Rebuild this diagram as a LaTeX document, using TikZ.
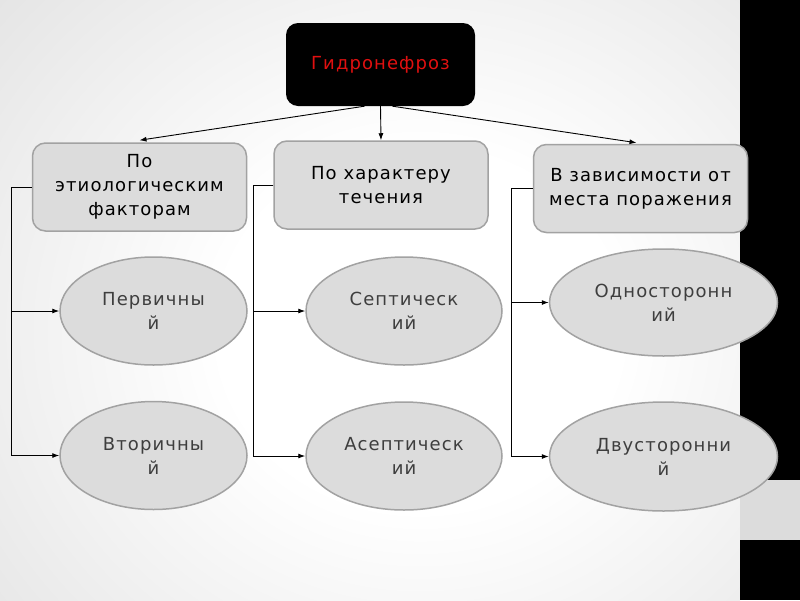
\documentclass[tikz,border=0pt]{standalone}
\usepackage{fontspec}
\setmainfont{DejaVu Sans}
\newfontfamily\dvs[LetterSpace=6]{DejaVu Sans}
\usetikzlibrary{shapes.geometric,arrows.meta}
\definecolor{boxfill}{HTML}{DCDCDC}
\definecolor{boxline}{HTML}{A2A2A2}
\definecolor{eltext}{HTML}{3E3E3E}
\definecolor{titlered}{HTML}{E01010}
\definecolor{bggray}{HTML}{C8C8C8}
\pgfdeclareradialshading{bgsh}{\pgfpoint{0bp}{0bp}}{color(0bp)=(white); color(10bp)=(white); color(48bp)=(bggray); color(75bp)=(bggray)}
\tikzset{
  topbox/.style={rectangle, rounded corners=12pt, fill=black, text=titlered, minimum width=189pt, minimum height=83pt, font=\dvs\fontsize{18}{24}\selectfont},
  catbox/.style={rectangle, rounded corners=13pt, fill=boxfill, draw=boxline, line width=1.5pt, minimum width=214pt, minimum height=88pt, align=center, text=black, font=\dvs\fontsize{18}{24}\selectfont},
  subell/.style={ellipse, fill=boxfill, draw=boxline, line width=1.5pt, inner sep=0pt, align=center, text=eltext, font=\dvs\fontsize{18}{24}\selectfont},
  arr/.style={draw=black, line width=0.9pt, -{Latex[length=7pt,width=5pt]}}
}
\begin{document}
\begin{tikzpicture}[x=1pt,y=-1pt]
\useasboundingbox (0,0) rectangle (800,600);
% background
\begin{scope}
\clip (0,0) rectangle (740,600);
\shade[shading=bgsh] (-80,-120) rectangle (920,780);
\end{scope}
\fill[black] (740,0) rectangle (800,480);
\fill[boxfill] (740,480) rectangle (800,540);
\fill[black] (740,540) rectangle (800,600);
% nodes
\node[topbox] (top) at (380.5,64.5) {Гидронефроз};
\node[catbox] (b1) at (139.5,187) {По\\этиологическим\\факторам};
\node[catbox] (b2) at (381,185) {По характеру\\течения};
\node[catbox] (b3) at (640.5,188.5) {В зависимости от\\места поражения};
\node[subell, minimum width=187pt, minimum height=108pt] (e1) at (153.5,311) {Первичны\\й};
\node[subell, minimum width=187pt, minimum height=108pt] (e2) at (153.5,455.5) {Вторичны\\й};
\node[subell, minimum width=196pt, minimum height=108pt] (e3) at (404,311) {Септическ\\ий};
\node[subell, minimum width=196pt, minimum height=108pt] (e4) at (404,456) {Асептическ\\ий};
\node[subell, minimum width=228pt, minimum height=107pt] (e5) at (663.5,302.5) {Односторонн\\ий};
\node[subell, minimum width=228pt, minimum height=109pt] (e6) at (663.5,456.5) {Двусторонни\\й};
% connectors from the title
\draw[arr] ([xshift=-16pt]top.south) -- ([yshift=2pt]b1.north);
\draw[arr] (top.south) -- (b2.north);
\draw[arr] ([xshift=12pt]top.south) -- ([xshift=-4pt,yshift=1pt]b3.north);
% branches
\draw[arr] (b1.west) -- ++(-20,0) |- (e1.west);
\draw[arr] (b1.west) -- ++(-20,0) |- (e2.west);
\draw[arr] (b2.west) -- ++(-20,0) |- (e3.west);
\draw[arr] (b2.west) -- ++(-20,0) |- (e4.west);
\draw[arr] (b3.west) -- ++(-21,0) |- (e5.west);
\draw[arr] (b3.west) -- ++(-21,0) |- (e6.west);
\end{tikzpicture}
\end{document}
